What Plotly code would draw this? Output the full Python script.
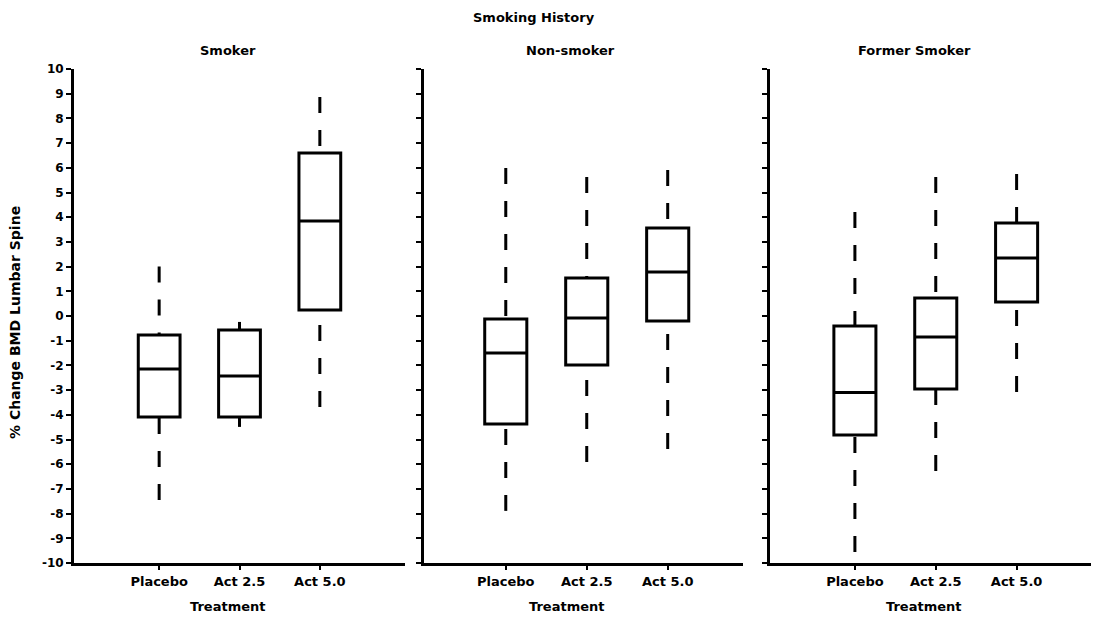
import plotly.graph_objects as go

# Treatment groups and smoking-history panels
treatments = ["Placebo", "Act 2.5", "Act 5.0"]
panels = ["Smoker", "Non-smoker", "Former Smoker"]

# Box statistics (% change in lumbar spine BMD), one list per panel, ordered as treatments
whisker_low = {
    "Smoker": [-7.45, -4.49, -3.68],
    "Non-smoker": [-7.89, -5.91, -5.38],
    "Former Smoker": [-9.55, -6.28, -3.08],
}
q1 = {
    "Smoker": [-4.09, -4.09, 0.24],
    "Non-smoker": [-4.37, -1.98, -0.20],
    "Former Smoker": [-4.82, -2.96, 0.57],
}
median = {
    "Smoker": [-2.15, -2.43, 3.85],
    "Non-smoker": [-1.50, -0.08, 1.78],
    "Former Smoker": [-3.10, -0.85, 2.35],
}
q3 = {
    "Smoker": [-0.77, -0.57, 6.60],
    "Non-smoker": [-0.12, 1.54, 3.56],
    "Former Smoker": [-0.40, 0.73, 3.77],
}
whisker_high = {
    "Smoker": [2.00, -0.24, 8.87],
    "Non-smoker": [5.99, 5.63, 5.91],
    "Former Smoker": [4.21, 5.63, 5.75],
}

y_ticks = list(range(-10, 11))

FONT = "DejaVu Sans"
INK = "black"
W, H = 1095, 618

x_domains = [[74 / W, 405 / W], [424 / W, 743 / W], [770 / W, 1091 / W]]
x_ranges = [[-1.06, 3.06], [-1.01, 2.93], [-1.05, 2.92]]
y_domain = [1 - 563 / H, 1 - 69 / H]

fig = go.Figure()

for i, panel in enumerate(panels):
    xa = "x" if i == 0 else f"x{i + 1}"
    ya = "y" if i == 0 else f"y{i + 1}"
    # boxes (quartiles and median); whiskers are drawn separately as dashed lines
    fig.add_trace(go.Box(
        x=treatments,
        q1=q1[panel], median=median[panel], q3=q3[panel],
        lowerfence=q1[panel], upperfence=q3[panel],
        width=0.52, whiskerwidth=0,
        line=dict(color=INK, width=3), fillcolor="white",
        boxpoints=False, hoverinfo="skip",
        xaxis=xa, yaxis=ya, showlegend=False,
    ))
    # dashed whiskers, dash pattern anchored at the whisker tip
    for j, t in enumerate(treatments):
        for tip, edge in ((whisker_high[panel][j], q3[panel][j]),
                          (whisker_low[panel][j], q1[panel][j])):
            fig.add_trace(go.Scatter(
                x=[t, t], y=[tip, edge], mode="lines",
                line=dict(color=INK, width=3, dash="16px,17px"),
                hoverinfo="skip", showlegend=False,
                xaxis=xa, yaxis=ya,
            ))

tick_font = dict(family=FONT, size=12, color=INK, weight="bold")
label_font = dict(family=FONT, size=13, color=INK, weight="bold")

layout_axes = {}
for i in range(3):
    sfx = "" if i == 0 else str(i + 1)
    layout_axes[f"xaxis{sfx}"] = dict(
        domain=x_domains[i], anchor=f"y{sfx}",
        type="category", categoryorder="array", categoryarray=treatments,
        range=x_ranges[i], automargin=False,
        showline=True, linecolor=INK, linewidth=3,
        ticks="outside", ticklen=4, tickwidth=2, tickcolor=INK,
        showgrid=False, zeroline=False,
        tickfont=dict(family=FONT, size=13, color=INK, weight="bold"),
    )
    layout_axes[f"yaxis{sfx}"] = dict(
        domain=y_domain, anchor=f"x{sfx}",
        range=[-10, 10], tickmode="array", tickvals=y_ticks,
        ticktext=[str(v) for v in y_ticks],
        showticklabels=(i == 0), automargin=False,
        showline=True, linecolor=INK, linewidth=3,
        ticks="outside", ticklen=5, tickwidth=2, tickcolor=INK,
        showgrid=False, zeroline=False,
        tickfont=tick_font,
    )

annotations = [
    dict(text="Smoking History", x=534 / W, y=1 - 18 / H),
    dict(text="% Change BMD Lumbar Spine", x=15 / W, y=1 - 323 / H, textangle=-90,
         font=dict(family=FONT, size=14, color=INK, weight="bold")),
]
for name, cx in zip(panels, [228, 570, 914]):
    annotations.append(dict(text=name, x=cx / W, y=1 - 51 / H))
for cx in [228, 567, 924]:
    annotations.append(dict(text="Treatment", x=cx / W, y=1 - 606 / H))
for a in annotations:
    a.setdefault("font", label_font)
    a.update(xref="paper", yref="paper", showarrow=False,
             xanchor="center", yanchor="middle")

fig.update_layout(
    width=W, height=H,
    margin=dict(l=0, r=0, t=0, b=0),
    paper_bgcolor="white", plot_bgcolor="white",
    font=dict(family=FONT, color=INK),
    annotations=annotations,
    **layout_axes,
)

fig.write_html("out.html")
